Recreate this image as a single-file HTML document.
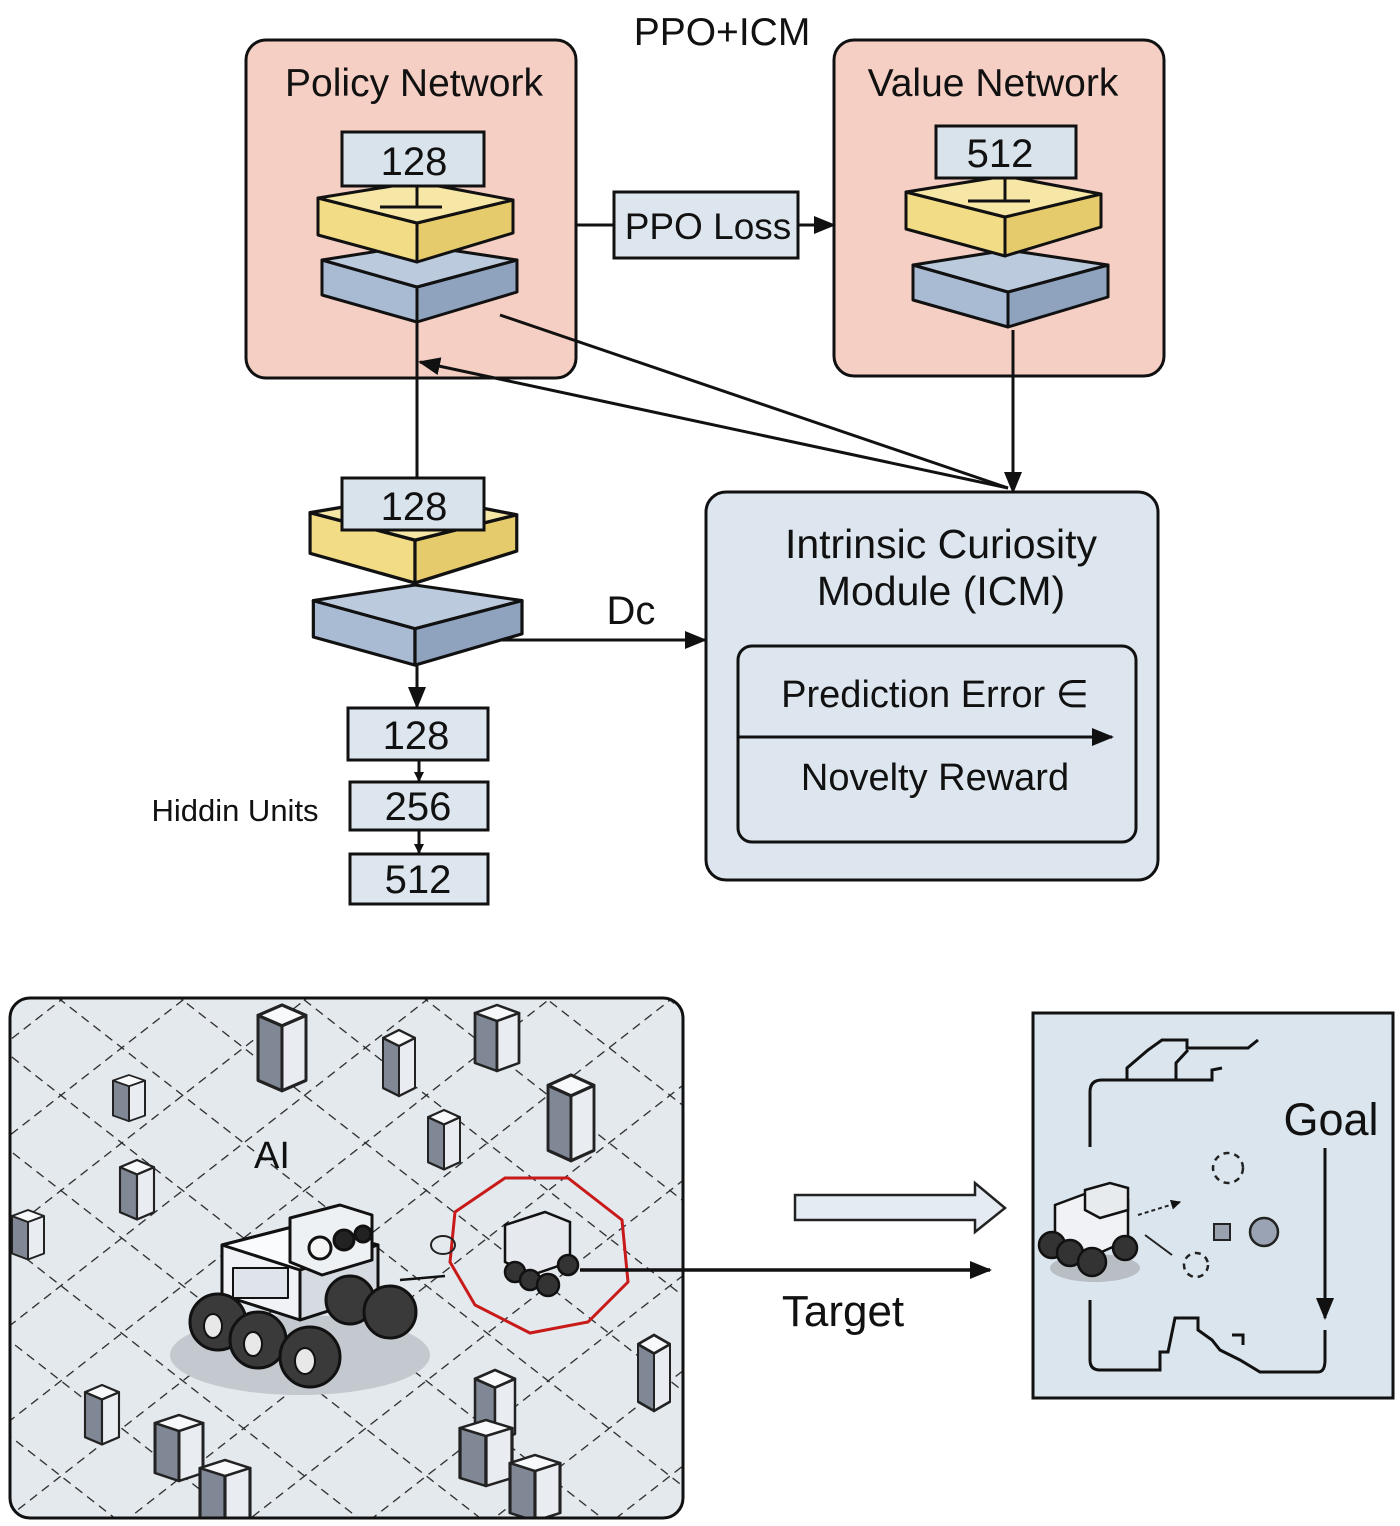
<!DOCTYPE html>
<html><head><meta charset="utf-8"><style>
html,body{margin:0;padding:0;background:#fff;}
svg{display:block;}
text{font-family:"Liberation Sans",Arial,sans-serif;fill:#111;}
</style></head><body>
<svg width="1400" height="1526" viewBox="0 0 1400 1526" xmlns="http://www.w3.org/2000/svg">
<defs>
<marker id="ah" markerWidth="10" markerHeight="10" refX="9" refY="5" orient="auto" markerUnits="userSpaceOnUse" viewBox="0 0 10 10">
<path d="M0,0 L10,5 L0,10 z" fill="#111"/></marker>
<marker id="ahb" markerWidth="22" markerHeight="18" refX="20" refY="9" orient="auto" markerUnits="userSpaceOnUse" viewBox="0 0 22 18">
<path d="M0,0 L22,9 L0,18 z" fill="#111"/></marker>
<g id="yel" stroke="#111" stroke-width="3" stroke-linejoin="round">
<polygon points="-99,16 0,41 0,80 -99,53" fill="#f2dc86"/>
<polygon points="0,41 96,18 96,51 0,80" fill="#e6cb6c"/>
<polygon points="-99,16 0,0 96,18 0,41" fill="#f6e7a6"/>
</g>
<g id="blu" stroke="#111" stroke-width="3" stroke-linejoin="round">
<polygon points="-95,15 0,42 0,77 -95,50" fill="#a9bbd3"/>
<polygon points="0,42 100,15 100,47 0,77" fill="#8fa3bf"/>
<polygon points="-95,15 0,0 100,15 0,42" fill="#bccadd"/>
</g>
<g id="cub" stroke="#222" stroke-width="2.5" stroke-linejoin="round">
<polygon points="0,8 20,16 20,66 0,58" fill="#7f8894"/>
<polygon points="20,16 40,8 40,58 20,66" fill="#e9edf2"/>
<polygon points="0,8 20,0 40,8 20,16" fill="#f7f9fb"/>
</g>
<pattern id="g1" width="75" height="75" patternUnits="userSpaceOnUse" patternTransform="rotate(38)">
<line x1="0" y1="0" x2="75" y2="0" stroke="#222" stroke-width="2.5" stroke-dasharray="9,6"/></pattern>
<pattern id="g2" width="75" height="75" patternUnits="userSpaceOnUse" patternTransform="rotate(-38)">
<line x1="0" y1="0" x2="75" y2="0" stroke="#222" stroke-width="2.5" stroke-dasharray="9,6"/></pattern>
<clipPath id="pc"><rect x="10" y="998" width="673" height="520" rx="20"/></clipPath>
</defs>

<text x="722" y="45" font-size="39" text-anchor="middle">PPO+ICM</text>

<!-- Policy -->
<rect x="246" y="40" width="330" height="338" rx="20" fill="#f5cfc3" stroke="#111" stroke-width="3"/>
<text x="414" y="96" font-size="39" text-anchor="middle">Policy Network</text>
<use href="#blu" x="417" y="245"/>
<use href="#yel" x="417" y="182"/>
<line x1="417" y1="186" x2="417" y2="207" stroke="#111" stroke-width="3"/>
<line x1="380" y1="207" x2="442" y2="207" stroke="#111" stroke-width="3"/>
<rect x="342" y="132" width="142" height="54" fill="#d9e3ec" stroke="#111" stroke-width="3"/>
<text x="414" y="175" font-size="40" text-anchor="middle">128</text>

<!-- Value -->
<rect x="834" y="40" width="330" height="336" rx="20" fill="#f5cfc3" stroke="#111" stroke-width="3"/>
<text x="993" y="96" font-size="39" text-anchor="middle">Value Network</text>
<use href="#blu" x="1008" y="250"/>
<use href="#yel" x="1005" y="176"/>
<line x1="1005" y1="178" x2="1005" y2="201" stroke="#111" stroke-width="3"/>
<line x1="968" y1="201" x2="1030" y2="201" stroke="#111" stroke-width="3"/>
<rect x="936" y="126" width="140" height="52" fill="#d9e3ec" stroke="#111" stroke-width="3"/>
<text x="1000" y="167" font-size="40" text-anchor="middle">512</text>

<!-- PPO Loss -->
<line x1="576" y1="225" x2="614" y2="225" stroke="#111" stroke-width="3"/>
<rect x="614" y="192" width="184" height="66" fill="#dde6ee" stroke="#111" stroke-width="3"/>
<text x="708" y="239" font-size="37" text-anchor="middle">PPO Loss</text>
<line x1="798" y1="225" x2="834" y2="225" stroke="#111" stroke-width="3" marker-end="url(#ahb)"/>

<!-- connectors -->
<line x1="417" y1="322" x2="417" y2="478" stroke="#111" stroke-width="3"/>
<line x1="1008" y1="488" x2="420" y2="362" stroke="#111" stroke-width="3" marker-end="url(#ahb)"/>
<line x1="500" y1="315" x2="1008" y2="488" stroke="#111" stroke-width="3"/>
<line x1="1013" y1="330" x2="1013" y2="492" stroke="#111" stroke-width="3" marker-end="url(#ahb)"/>

<!-- lower stack -->
<g transform="translate(415,585) scale(1.07,1.04)"><use href="#blu"/></g>
<g transform="translate(415,495) scale(1.06,1.1)"><use href="#yel"/></g>
<rect x="342" y="478" width="142" height="52" fill="#d9e3ec" stroke="#111" stroke-width="3"/>
<text x="414" y="520" font-size="40" text-anchor="middle">128</text>

<text x="631" y="624" font-size="40" text-anchor="middle">Dc</text>
<line x1="500" y1="640" x2="705" y2="640" stroke="#111" stroke-width="3" marker-end="url(#ahb)"/>

<!-- ICM -->
<rect x="706" y="492" width="452" height="388" rx="20" fill="#dde6ee" stroke="#111" stroke-width="3"/>
<text x="941" y="558" font-size="41" text-anchor="middle">Intrinsic Curiosity</text>
<text x="941" y="605" font-size="41" text-anchor="middle">Module (ICM)</text>
<rect x="738" y="646" width="398" height="196" rx="14" fill="#dde6ee" stroke="#111" stroke-width="3"/>
<text x="935" y="707" font-size="38" text-anchor="middle">Prediction Error ∈</text>
<line x1="738" y1="737" x2="1112" y2="737" stroke="#111" stroke-width="3" marker-end="url(#ahb)"/>
<text x="935" y="790" font-size="38" text-anchor="middle">Novelty Reward</text>

<!-- hidden units -->
<line x1="417" y1="665" x2="417" y2="707" stroke="#111" stroke-width="3" marker-end="url(#ahb)"/>
<rect x="348" y="708" width="140" height="52" fill="#dde6ee" stroke="#111" stroke-width="3"/>
<text x="416" y="749" font-size="40" text-anchor="middle">128</text>
<line x1="419" y1="760" x2="419" y2="781" stroke="#111" stroke-width="3" marker-end="url(#ah)"/>
<rect x="350" y="782" width="138" height="48" fill="#dde6ee" stroke="#111" stroke-width="3"/>
<text x="418" y="820" font-size="40" text-anchor="middle">256</text>
<line x1="419" y1="830" x2="419" y2="853" stroke="#111" stroke-width="3" marker-end="url(#ah)"/>
<rect x="350" y="854" width="138" height="50" fill="#dde6ee" stroke="#111" stroke-width="3"/>
<text x="418" y="893" font-size="40" text-anchor="middle">512</text>
<text x="235" y="821" font-size="31" text-anchor="middle">Hiddin Units</text>

<!-- bottom-left panel -->
<rect x="10" y="998" width="673" height="520" rx="20" fill="#e4e9ee"/>
<g clip-path="url(#pc)">
<rect x="10" y="998" width="673" height="520" fill="url(#g1)"/>
<rect x="10" y="998" width="673" height="520" fill="url(#g2)"/>
<ellipse cx="300" cy="1355" rx="130" ry="40" fill="#c4c9cf"/>
<g transform="translate(258,1005) scale(1.2,1.3)"><use href="#cub"/></g>
<g transform="translate(475,1005) scale(1.1,1.0)"><use href="#cub"/></g>
<g transform="translate(383,1030) scale(0.8,1.0)"><use href="#cub"/></g>
<g transform="translate(113,1075) scale(0.8,0.7)"><use href="#cub"/></g>
<g transform="translate(548,1075) scale(1.15,1.3)"><use href="#cub"/></g>
<g transform="translate(428,1110) scale(0.8,0.9)"><use href="#cub"/></g>
<g transform="translate(120,1160) scale(0.85,0.9)"><use href="#cub"/></g>
<g transform="translate(12,1210) scale(0.8,0.75)"><use href="#cub"/></g>
<g transform="translate(638,1335) scale(0.8,1.15)"><use href="#cub"/></g>
<g transform="translate(85,1385) scale(0.85,0.9)"><use href="#cub"/></g>
<g transform="translate(155,1415) scale(1.2,1.0)"><use href="#cub"/></g>
<g transform="translate(475,1370) scale(1.0,1.1)"><use href="#cub"/></g>
<g transform="translate(460,1420) scale(1.3,1.0)"><use href="#cub"/></g>
<g transform="translate(200,1460) scale(1.25,1.0)"><use href="#cub"/></g>
<g transform="translate(510,1455) scale(1.25,1.0)"><use href="#cub"/></g>
</g>
<rect x="10" y="998" width="673" height="520" rx="20" fill="none" stroke="#111" stroke-width="3"/>
<text x="272" y="1168" font-size="38" text-anchor="middle">AI</text>

<!-- big robot -->
<g stroke="#111" stroke-width="3" stroke-linejoin="round">
<polygon points="222,1245 300,1225 378,1245 378,1295 300,1320 222,1295" fill="#f0f2f5"/>
<polygon points="222,1245 300,1225 378,1245 300,1270" fill="#fafbfc"/>
<polygon points="300,1270 378,1245 378,1295 300,1320" fill="#d6dbe1"/>
<rect x="233" y="1268" width="55" height="30" fill="#dfe4ea" stroke-width="2"/>
<polygon points="290,1218 340,1205 372,1215 372,1260 322,1275 290,1262" fill="#eef1f4"/>
<circle cx="320" cy="1248" r="11" fill="#f5f5f5"/>
<circle cx="344" cy="1240" r="10" fill="#222"/>
<circle cx="363" cy="1234" r="8" fill="#222"/>
<g fill="#3a3a3a">
<circle cx="218" cy="1322" r="28"/><circle cx="258" cy="1340" r="28"/><circle cx="310" cy="1357" r="30"/>
<circle cx="350" cy="1300" r="24"/><circle cx="390" cy="1312" r="26"/>
</g>
<g fill="#e8e8e8" stroke-width="2">
<ellipse cx="213" cy="1326" rx="9" ry="12"/><ellipse cx="253" cy="1344" rx="9" ry="12"/><ellipse cx="305" cy="1361" rx="10" ry="13"/>
</g>
</g>
<line x1="445" y1="1276" x2="400" y2="1280" stroke="#111" stroke-width="2.5"/>

<!-- red octagon + small robot -->
<polygon points="505,1178 568,1178 622,1220 628,1282 588,1322 530,1333 475,1305 450,1262 455,1212" fill="none" stroke="#c91a1a" stroke-width="3"/>
<g stroke="#111" stroke-width="2.5">
<polygon points="505,1225 545,1212 570,1222 570,1262 532,1275 505,1262" fill="#e6e9ed"/>
<g fill="#333"><circle cx="515" cy="1272" r="10"/><circle cx="530" cy="1280" r="10"/><circle cx="548" cy="1285" r="11"/><circle cx="568" cy="1265" r="10"/></g>
</g>
<ellipse cx="443" cy="1245" rx="12" ry="9" fill="none" stroke="#222" stroke-width="2"/>
<line x1="580" y1="1270" x2="990" y2="1270" stroke="#111" stroke-width="3.5" marker-end="url(#ahb)"/>

<!-- hollow arrow -->
<polygon points="795,1195 975,1195 975,1183 1005,1208 975,1232 975,1220 795,1220" fill="#e4ebf2" stroke="#222" stroke-width="2.5"/>
<text x="843" y="1326" font-size="44" text-anchor="middle">Target</text>

<!-- right panel -->
<rect x="1033" y="1013" width="360" height="385" fill="#dbe5ed" stroke="#111" stroke-width="3"/>
<g fill="none" stroke="#111" stroke-width="3">
<path d="M1090,1147 L1090,1092 Q1090,1080 1102,1080 L1127,1080 L1127,1068 L1148,1050 L1162,1040 L1187,1040 L1187,1048 L1248,1048 L1258,1040"/>
<path d="M1127,1080 L1176,1080 L1176,1063 L1188,1050"/>
<path d="M1176,1080 L1212,1080 L1212,1070 L1222,1068"/>
<path d="M1090,1300 L1090,1360 Q1090,1370 1100,1370 L1160,1370 L1160,1352 L1168,1352 L1175,1318 L1198,1318 L1198,1330 L1212,1340 L1220,1350 L1240,1360 L1260,1372 L1318,1372 Q1325,1372 1325,1360 L1325,1330"/>
<path d="M1232,1335 L1243,1335 L1243,1345"/>
</g>
<circle cx="1228" cy="1168" r="15" fill="none" stroke="#222" stroke-width="2.5" stroke-dasharray="6,5"/>
<circle cx="1196" cy="1265" r="12" fill="none" stroke="#222" stroke-width="2.5" stroke-dasharray="6,5"/>
<rect x="1214" y="1224" width="16" height="16" fill="#9aa2b0" stroke="#222" stroke-width="2"/>
<circle cx="1264" cy="1232" r="14" fill="#9aa3b3" stroke="#222" stroke-width="2.5"/>
<line x1="1138" y1="1215" x2="1180" y2="1202" stroke="#222" stroke-width="2" stroke-dasharray="4,3" marker-end="url(#ah)"/>
<line x1="1145" y1="1235" x2="1172" y2="1255" stroke="#222" stroke-width="2"/>
<text x="1331" y="1135" font-size="45" text-anchor="middle">Goal</text>
<line x1="1325" y1="1148" x2="1325" y2="1318" stroke="#111" stroke-width="3" marker-end="url(#ahb)"/>
<!-- small robot right -->
<ellipse cx="1095" cy="1268" rx="45" ry="14" fill="#b9bec4"/>
<g stroke="#111" stroke-width="2.5">
<polygon points="1055,1205 1090,1192 1128,1200 1128,1240 1095,1255 1055,1240" fill="#f0f2f5"/>
<polygon points="1085,1190 1110,1183 1128,1188 1128,1210 1100,1218 1085,1210" fill="#e8ebee"/>
<g fill="#333"><circle cx="1052" cy="1245" r="13"/><circle cx="1070" cy="1253" r="13"/><circle cx="1092" cy="1262" r="14"/><circle cx="1125" cy="1248" r="12"/></g>
</g>
</svg>
</body></html>
